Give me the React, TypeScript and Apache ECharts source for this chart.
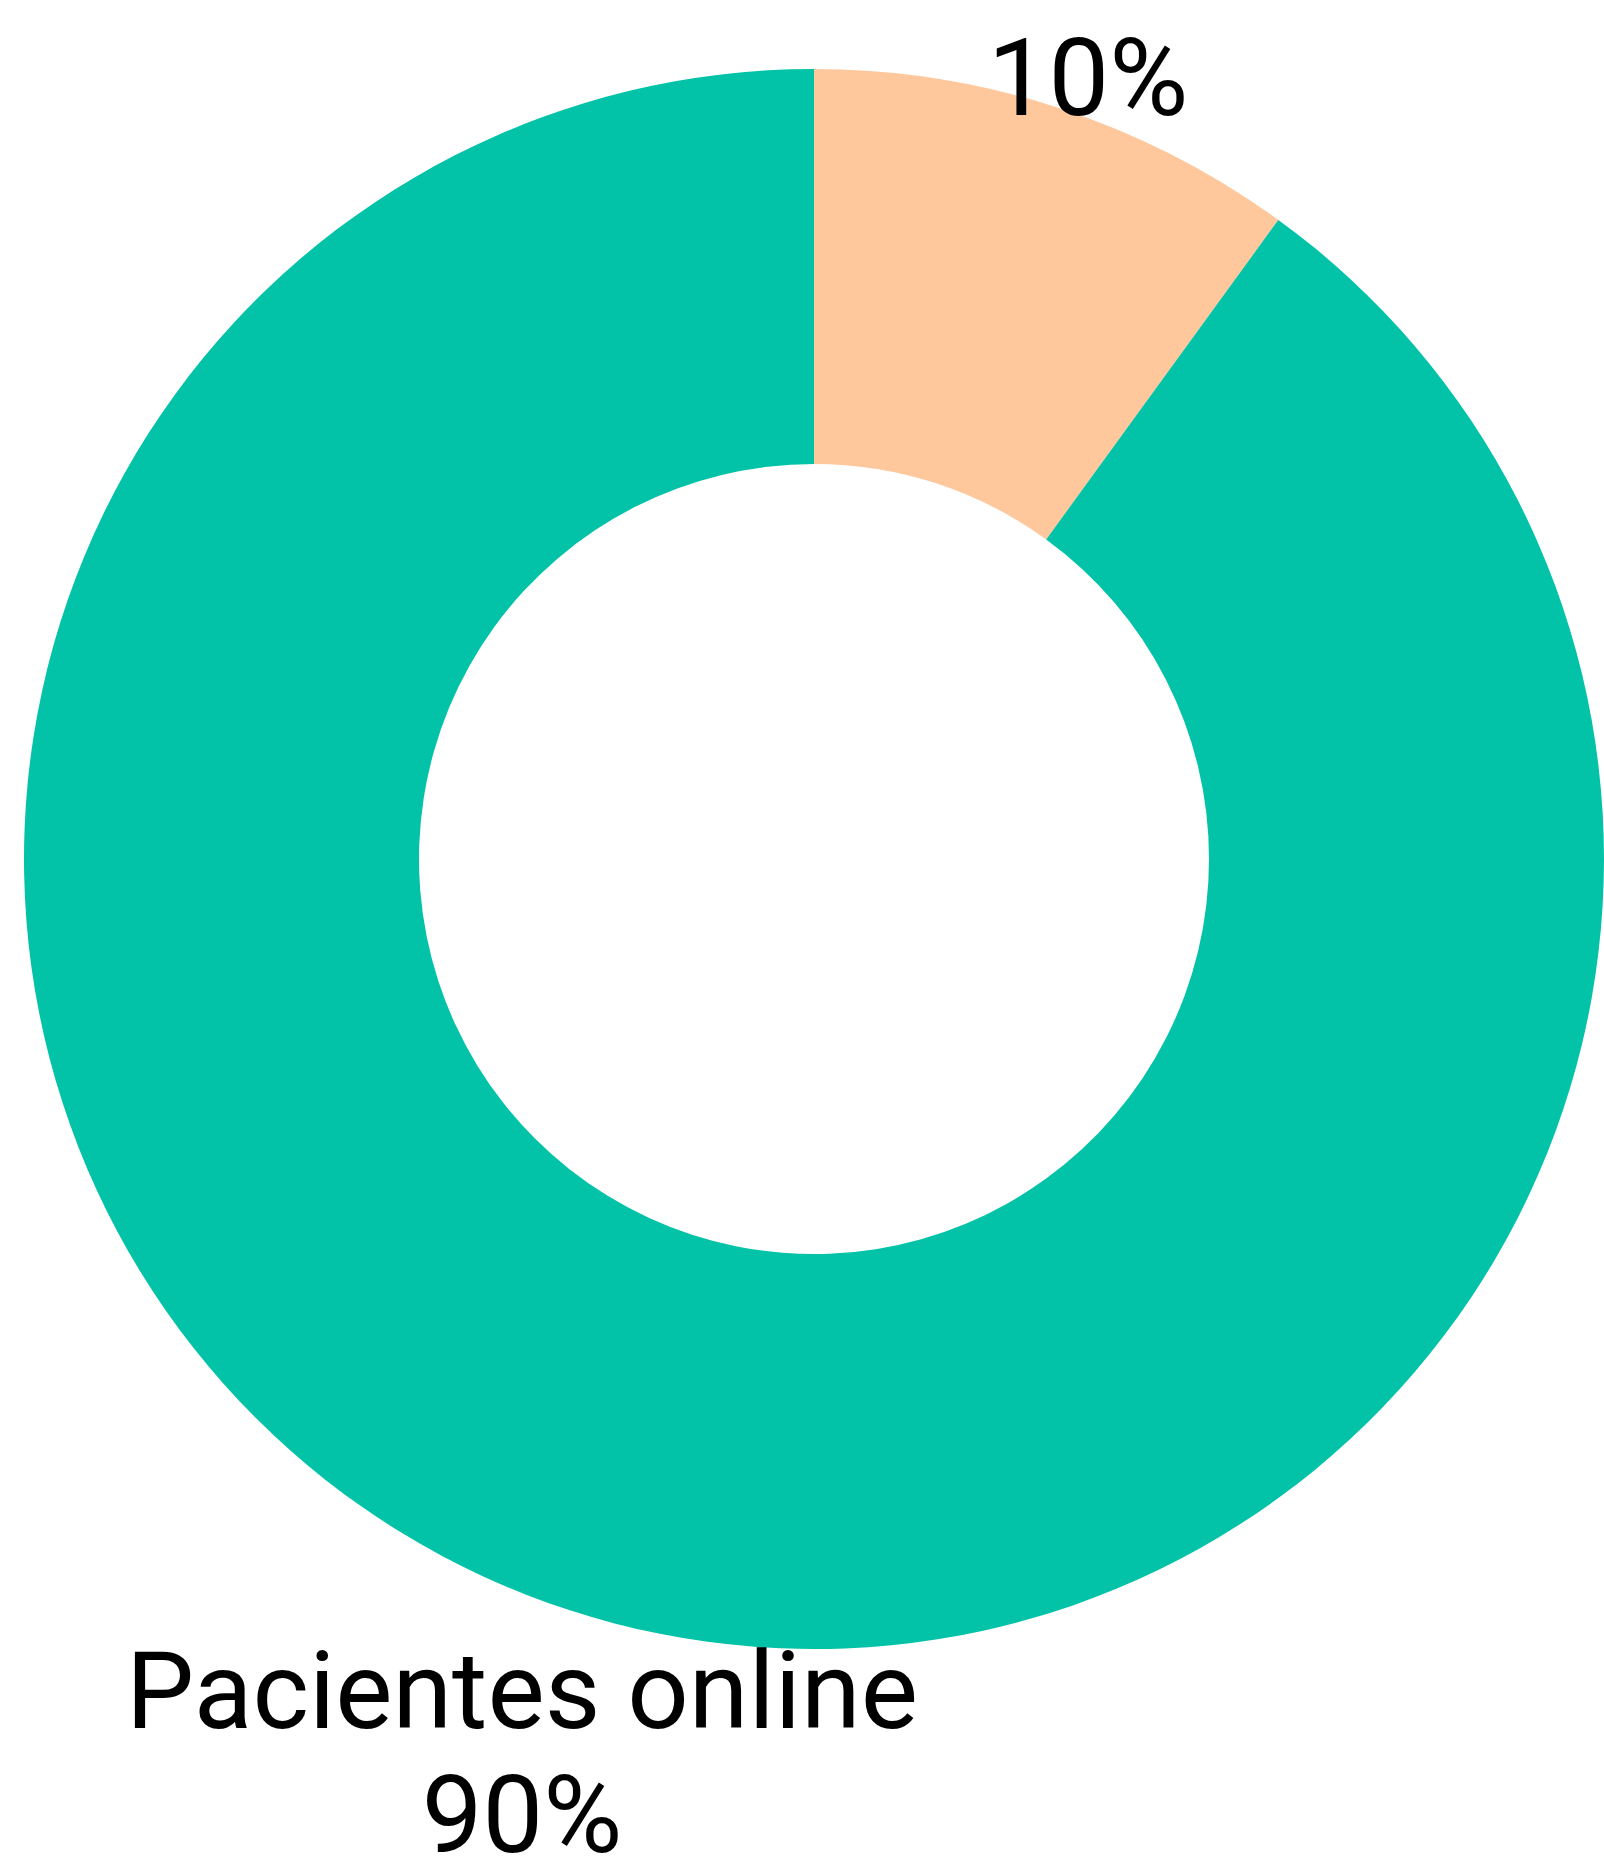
import React, { useEffect, useRef } from "react";
import * as echarts from "echarts";

const categories = ["Pacientes presenciales", "Pacientes online"];
const values = [10, 90];
const colors = ["#FEC79C", "#02C3A7"];
const labelTexts = ["10%", "Pacientes online\n90%"];

export default function App() {
  const ref = useRef<HTMLDivElement>(null);
  useEffect(() => {
    document.body.style.margin = "0";
    const chart = echarts.init(ref.current!, null, { renderer: "svg" });
    const labelPos = [
      { x: 1088, y: 78 },
      { x: 522, y: 1753 },
    ];
    chart.setOption({
      animation: false,
      backgroundColor: "#ffffff",
      series: [
        {
          type: "pie",
          center: [814, 859],
          radius: [395, 790],
          startAngle: 90,
          clockwise: true,
          avoidLabelOverlap: false,
          labelLine: { show: false },
          label: {
            show: true,
            position: "outside",
            fontFamily: "Roboto",
            fontSize: 108,
            lineHeight: 124,
            color: "#000000",
            align: "center",
            formatter: (p: any) => labelTexts[p.dataIndex],
          },
          labelLayout: (p: any) => ({
            x: labelPos[p.dataIndex].x,
            y: labelPos[p.dataIndex].y,
            align: "center",
            verticalAlign: "middle",
            hideOverlap: false,
            moveOverlap: null,
          }),
          itemStyle: { borderWidth: 0 },
          emphasis: { disabled: true },
          data: categories.map((name, i) => ({
            name,
            value: values[i],
            itemStyle: { color: colors[i] },
          })),
        },
      ],
    });
    return () => chart.dispose();
  }, []);
  return <div ref={ref} style={{ width: 1604, height: 1859 }} />;
}
